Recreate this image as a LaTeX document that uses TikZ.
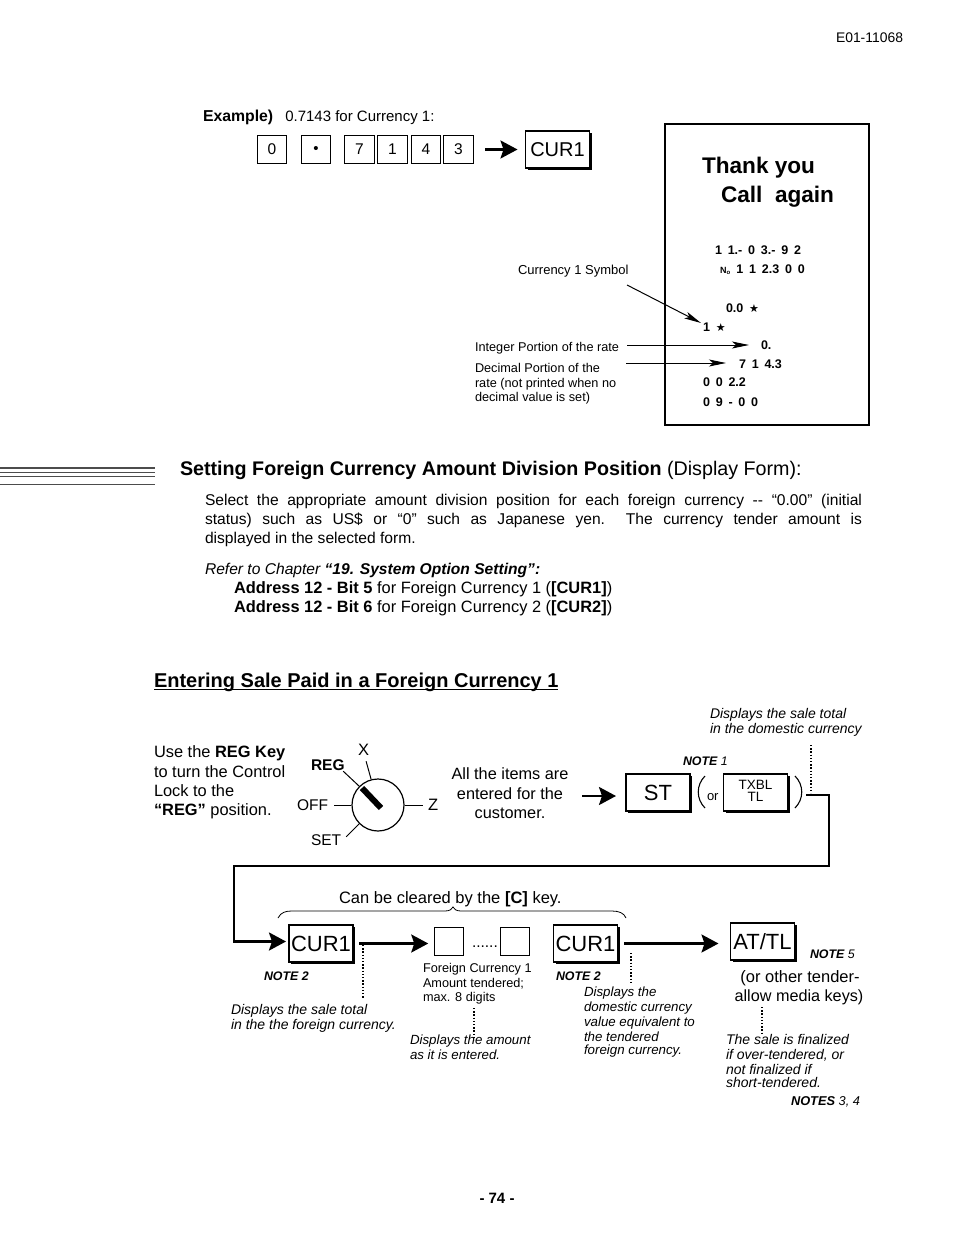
\documentclass[tikz,border=0pt]{standalone}
\usepackage{fontspec}
\setmainfont{Liberation Sans}
\newfontfamily\dejav{DejaVu Sans}
\usetikzlibrary{arrows.meta,shadows}
\newcommand\fs[1]{\fontsize{#1}{#1}\selectfont}
\newcommand\bi[1]{{\bfseries\itshape #1}}
\newcommand\rc[1]{{\spaceskip=5.8pt\relax #1}}
\tikzset{
 txt/.style={anchor=base west,inner sep=0pt,outer sep=0pt},
 ctr/.style={anchor=base,inner sep=0pt,outer sep=0pt},
 body/.style={txt,font=\fs{15.6}},
 big/.style={txt,font=\fs{16.4}},
 note/.style={txt,font=\fs{13.3}\itshape},
 notew/.style={txt,font=\fs{14}\itshape},
 bnote/.style={txt,font=\fs{12.4}\bfseries\itshape},
 small/.style={txt,font=\fs{12.7}},
 rcpt/.style={txt,font=\fs{12.5}\bfseries},
 digit/.style={draw,line width=1.3pt,fill=white,inner sep=0pt,outer sep=0pt,minimum width=29.5pt,minimum height=28pt,font=\fs{15.5}},
 bigkey/.style={draw,line width=1.3pt,fill=white,inner sep=0pt,outer sep=0pt,minimum width=64pt,minimum height=37pt,font=\fs{22},
   drop shadow={shadow xshift=2.2pt,shadow yshift=-2.2pt,opacity=1,fill=black}},
 flow/.style={line width=2.4pt,-{Stealth[length=17pt,width=18pt,inset=3pt]}},
 thin arrow/.style={line width=1pt,-{Stealth[length=17pt,width=7pt,inset=4pt]}},
 dots/.style={line width=1.1pt,dash pattern=on 1.3pt off 1.9pt},
 tick/.style={line width=1pt},
 rule/.style={line width=0.8pt,black!70},
}
\begin{document}
\begin{tikzpicture}[x=1pt,y=-1pt]
\useasboundingbox (0,0) rectangle (954,1239);
\fill[white] (0,0) rectangle (954,1239);
\node[txt,font=\fs{13.9}] (docno) at (836,43) {E01-11068};
% Example
\node[txt,font=\fs{15}] (ex) at (203,121) {{\fs{15.8}\textbf{Example)}}\hspace{12pt}0.7143 for Currency 1:};
\node[digit] (k0) at (272,149.5) {0};
\node[digit] (kdot) at (316,149.5) {\raisebox{-4pt}{\fs{15}•}};
\node[digit] (k7) at (359.5,149.5) {7};
\node[digit] (k1) at (392.5,149.5) {1};
\node[digit] (k4) at (426,149.5) {4};
\node[digit] (k3) at (458.5,149.5) {3};
\node[bigkey,font=\fs{20}] (kcur) at (557.5,149.5) {CUR1};
\coordinate (a0) at (485,149.5);
\draw[flow,shorten >=8pt] (a0) -- (a0 -| kcur.west);
% Receipt
\node[draw,line width=1.4pt,inner sep=0pt,minimum width=204pt,minimum height=301pt] (receipt) at (767,274.5) {};
\node[txt,font=\fs{22.6}\bfseries] (thx) at (702,173.5) {Thank you};
\node[txt,font=\fs{22.6}\bfseries] (call) at (721,202.5) {Call\ \ again};
\node[rcpt] (r1) at (715,254) {\rc{1 1.- 0 3.- 9 2}};
\node[rcpt] (r2) at (720,273) {\rc{{\fs{9}N\textsubscript{o}} 1 1 2.3 0 0}};
\node[rcpt] (r3) at (726,312) {\rc{0.0 {\dejav\fs{11}★}}};
\node[rcpt] (r4) at (703,331) {\rc{1 {\dejav\fs{11}★}}};
\node[rcpt] (r5) at (761,349) {0.};
\node[rcpt] (r6) at (739,368) {\rc{7 1 4.3}};
\node[rcpt] (r7) at (703,386) {\rc{0 0 2.2}};
\node[rcpt] (r8) at (703,406) {\rc{0 9 - 0 0}};
\node[small,font=\fs{13}] (sym) at (518,274) {Currency 1 Symbol};
\node[small] (int) at (475,351) {Integer Portion of the rate};
\node[small] (dec1) at (475,372) {Decimal Portion of the};
\node[small] (dec2) at (475,387) {rate (not printed when no};
\node[small] (dec3) at (475,401) {decimal value is set)};
\coordinate (symS) at (627,285);
\coordinate (symE) at (701,323);
\coordinate (intS) at (627,345);
\coordinate (intE) at (749,345);
\coordinate (decS) at (626,363);
\coordinate (decE) at (726,363);
\draw[thin arrow] (symS) -- (symE);
\draw[thin arrow] (intS) -- (intE);
\draw[thin arrow] (decS) -- (decE);
% Setting heading
\draw[rule,line width=1.2pt] (0,468) coordinate (l1a) -- (155,468) coordinate (l1b);
\draw[rule] (0,472) coordinate (l2a) -- (155,472) coordinate (l2b);
\draw[rule] (0,476) coordinate (l3a) -- (155,476) coordinate (l3b);
\draw[rule,line width=0.6pt] (0,484.5) coordinate (l4a) -- (155,484.5) coordinate (l4b);
\node[txt,font=\fs{19.7}] (h1) at (180,475) {\textbf{Setting Foreign Currency Amount Division Position} (Display Form):};
\node[body] (p1) at (205,505) {\makebox[657pt][s]{Select the appropriate amount division position for each foreign currency -{}- “0.00” (initial}};
\node[body] (p2) at (205,524) {\makebox[657pt][s]{status) such as US\$ or “0” such as Japanese yen.\ \ The currency tender amount is}};
\node[body] (p3) at (205,543) {displayed in the selected form.};
\node[body] (ref) at (205,574) {\itshape Refer to Chapter \textbf{“19. System Option Setting”:}};
\node[big] (ad1) at (234,593) {\textbf{Address 12 - Bit 5} for Foreign Currency 1 (\textbf{[CUR1]})};
\node[big] (ad2) at (234,612) {\textbf{Address 12 - Bit 6} for Foreign Currency 2 (\textbf{[CUR2]})};
% Entering heading
\node[txt,font=\fs{20}\bfseries] (h2) at (154,687) {Entering Sale Paid in a Foreign Currency 1};
\coordinate (u1) at (154,689.5);
\draw[line width=1.6pt] (u1) -- ++(404,0) coordinate (u2);
% Displays top
\node[notew] (d1a) at (710,718) {Displays the sale total};
\node[notew] (d1b) at (710,733) {in the domestic currency};
% Left text
\node[big] (u1a) at (154,757) {Use the \textbf{REG Key}};
\node[big] (u1b) at (154,777) {to turn the Control};
\node[big] (u1c) at (154,796) {Lock to the};
\node[big] (u1d) at (154,815) {\textbf{“REG”} position.};
% Dial
\node[draw,circle,line width=1.2pt,inner sep=0pt,minimum size=52pt] (dial) at (378,805) {};
\coordinate (pA) at (362,788);
\coordinate (pB) at (381,808);
\draw[line width=6pt] (pA) -- (pB);
\node[txt,font=\fs{15.5}\bfseries] (lreg) at (311,770) {REG};
\node[txt,font=\fs{16.5}] (lx) at (358,755) {X};
\node[txt,font=\fs{15.5}] (loff) at (297,810) {OFF};
\node[txt,font=\fs{16.5}] (lz) at (428,810) {Z};
\node[txt,font=\fs{15.5}] (lset) at (311,845) {SET};
\draw[tick] (dial.105) -- ++(-5,-18) coordinate (tx);
\draw[tick] (dial.135) -- ++(-16,-15) coordinate (tr);
\draw[tick] (dial.west) -- ++(-17,0) coordinate (to);
\draw[tick] (dial.east) -- ++(18,0) coordinate (tz);
\draw[tick] (dial.225) -- ++(-13,13) coordinate (ts);
% All items
\node[ctr,font=\fs{16.3}] (it1) at (510,779) {All the items are};
\node[ctr,font=\fs{16.3}] (it2) at (510,799) {entered for the};
\node[ctr,font=\fs{16.3}] (it3) at (510,818) {customer.};
\coordinate (itA) at (582,796);
\node[bigkey] (st) at (658,792.5) {ST};
\draw[flow,shorten >=10pt] (itA) -- (itA -| st.west);
\node[txt,font=\fs{12.4}] (n1) at (683,765) {\bi{NOTE} \itshape 1};
\node[bigkey,font=\fs{13.5}] (tx1) at (755.5,792.5) {\begin{tabular}{@{}c@{}}TXBL\\[-1.5pt]TL\end{tabular}};
\node[txt,font=\fs{13}] (orr) at (707,800) {or};
\coordinate (pl1) at (705,776); \coordinate (pl2) at (705,808);
\draw[line width=1.1pt] (pl1) .. controls (696,785) and (696,799) .. (pl2);
\coordinate (pr1) at (795,776); \coordinate (pr2) at (795,808);
\draw[line width=1.1pt] (pr1) .. controls (804,785) and (804,799) .. (pr2);
% Flow line
\coordinate (fA) at (806,795);
\node[bigkey] (c1) at (321,943.5) {CUR1};
\draw[flow,line width=2.6pt,shorten >=3pt] (fA) -- (829,795) -- (829,866) -- (234,866) |- ([yshift=2pt]c1.west);
\draw[dots] (811,745) coordinate (dA) -- (811,793) coordinate (dB);
% Brace
\node[txt,font=\fs{16.5}] (cl) at (339,903) {Can be cleared by the \textbf{[C]} key.};
\coordinate (bL) at (278,918); \coordinate (bT) at (453,907); \coordinate (bR) at (626,918);
\draw[line width=0.8pt] (bL) .. controls (281,912) and (286,911) .. (292,911) -- (445,911) .. controls (450,911) and (452,909) .. (bT) .. controls (454,909) and (456,911) .. (461,911) -- (612,911) .. controls (619,911) and (624,913) .. (bR);
% Bottom row
\node[digit] (b1) at (449,941.5) {};
\node[digit] (b2) at (515,941.5) {};
\node[txt,font=\fs{15.5}] (dd) at (472,947) {......};
\node[bigkey] (c2) at (585.5,943.5) {CUR1};
\node[bigkey] (at) at (762.5,941.5) {AT/TL};
\coordinate (f1) at (359,943.5);
\coordinate (f2) at (624,943.5);
\draw[flow,shorten >=6pt] (f1) -- (f1 -| b1.west);
\draw[flow,shorten >=12pt] (f2) -- (f2 -| at.west);
\node[bnote] (n2a) at (264,980) {NOTE 2};
\node[notew] (d2a) at (231,1014) {Displays the sale total};
\node[notew] (d2b) at (231,1029) {in the the foreign currency.};
\draw[dots] (363,945) coordinate (e1) -- (363,998) coordinate (e2);
\node[small] (fc1) at (423,972) {Foreign Currency 1};
\node[small] (fc2) at (423,987) {Amount tendered;};
\node[small] (fc3) at (423,1001) {max. 8 digits};
\draw[dots] (474,1008) coordinate (e3) -- (474,1040) coordinate (e4);
\node[note] (d3a) at (410,1044) {Displays the amount};
\node[note] (d3b) at (410,1059) {as it is entered.};
\node[bnote] (n2b) at (556,980) {NOTE 2};
\draw[dots] (631,953) coordinate (e5) -- (631,982) coordinate (e6);
\node[note] (d4a) at (584,996) {Displays the};
\node[note] (d4b) at (584,1011) {domestic currency};
\node[note] (d4c) at (584,1026) {value equivalent to};
\node[note] (d4d) at (584,1041) {the tendered};
\node[note] (d4e) at (584,1054) {foreign currency.};
\node[txt,font=\fs{12.4}] (n5) at (810,958) {\bi{NOTE} \itshape 5};
\node[ctr,font=\fs{16.5}] (ot1) at (800,982) {(or other tender-};
\node[ctr,font=\fs{16.2}] (ot2) at (799,1001) {allow media keys)};
\draw[dots] (762,1007) coordinate (e7) -- (762,1034) coordinate (e8);
\node[notew] (d5a) at (726,1044) {The sale is finalized};
\node[notew] (d5b) at (726,1059) {if over-tendered, or};
\node[notew] (d5c) at (726,1074) {not finalized if};
\node[notew] (d5d) at (726,1087) {short-tendered.};
\node[txt,font=\fs{12.8}] (n34) at (791,1105) {\bi{NOTES} \itshape 3, 4};
\node[ctr,font=\fs{15}\bfseries] (pg) at (497,1203) {- 74 -};
\end{tikzpicture}
\end{document}
